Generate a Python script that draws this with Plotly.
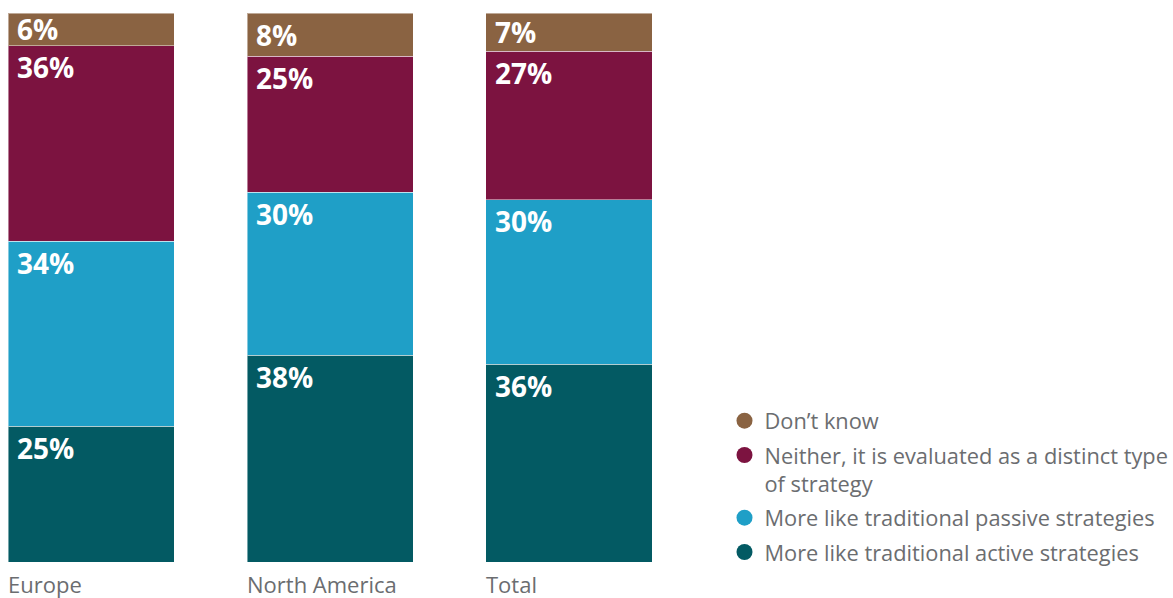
import plotly.graph_objects as go

# Survey responses by region (percent of respondents)
regions = ["Europe", "North America", "Total"]
series_names = [
    "More like traditional active strategies",
    "More like traditional passive strategies",
    "Neither, it is evaluated as a distinct type<br>of strategy",
    "Don\u2019t know",
]
active = [25, 38, 36]
passive = [34, 30, 30]
neither = [36, 25, 27]
dont_know = [6, 8, 7]
series_values = [active, passive, neither, dont_know]
colors = ["#035A63", "#1F9FC7", "#7C1340", "#8A6342"]

FONT = "Open Sans"
GRAY = "#6B6D70"
BAR_W = 0.695
PLOT_H = 549  # pixel height of the plotting area

# Each bar is scaled to fill 100%
totals = [sum(v[i] for v in series_values) for i in range(len(regions))]
shares = [[v[i] / totals[i] * 100 for i in range(len(regions))] for v in series_values]

fig = go.Figure()
for name, share, color in zip(series_names, shares, colors):
    fig.add_trace(go.Bar(
        x=regions, y=share, name=name, width=BAR_W,
        marker=dict(color=color, line=dict(color="rgba(255,255,255,0.45)", width=1)),
        showlegend=False, hoverinfo="skip",
    ))

# Legend entries with round swatches, top to bottom
for k, (name, color) in enumerate(reversed(list(zip(series_names, colors)))):
    fig.add_trace(go.Scatter(
        x=[None], y=[None], mode="markers", name=name, legendgroup=f"g{k}",
        marker=dict(symbol="circle", size=16, color=color),
    ))

annotations = []
# Value labels near the top-left corner of each segment
for i in range(len(regions)):
    top = 0.0
    for vals, share in zip(series_values, shares):
        top += share[i]
        seg_px = share[i] / 100 * PLOT_H
        offset = min(21.5, seg_px / 2)
        annotations.append(dict(
            x=i - BAR_W / 2, y=top, xref="x", yref="y",
            xanchor="left", yanchor="middle", xshift=7, yshift=-offset,
            text=f"<b>{vals[i]}%</b>", showarrow=False,
            font=dict(family=FONT, size=28, color="white"),
        ))
    # Category name under the bar, left aligned with it
    annotations.append(dict(
        x=i - BAR_W / 2, y=0, xref="x", yref="paper",
        xanchor="left", yanchor="top", xshift=-2, yshift=-5,
        text=regions[i], showarrow=False,
        font=dict(family=FONT, size=22, color=GRAY),
    ))

fig.update_layout(
    width=1173, height=598,
    barmode="stack",
    margin=dict(l=0, r=473, t=13, b=36, autoexpand=False),
    paper_bgcolor="white", plot_bgcolor="white",
    xaxis=dict(range=[-0.381, 2.548], showticklabels=False, showgrid=False,
               zeroline=False, showline=False, ticks=""),
    yaxis=dict(range=[0, 100], showticklabels=False, showgrid=False,
               zeroline=False, showline=False, ticks=""),
    showlegend=True,
    legend=dict(
        x=1.035, xanchor="left", y=-0.02, yanchor="bottom",
        font=dict(family=FONT, size=21.8, color=GRAY),
        traceorder="grouped", tracegroupgap=3, itemsizing="trace",
        valign="top", bgcolor="rgba(0,0,0,0)",
    ),
    annotations=annotations,
)

fig.write_html("out.html")
